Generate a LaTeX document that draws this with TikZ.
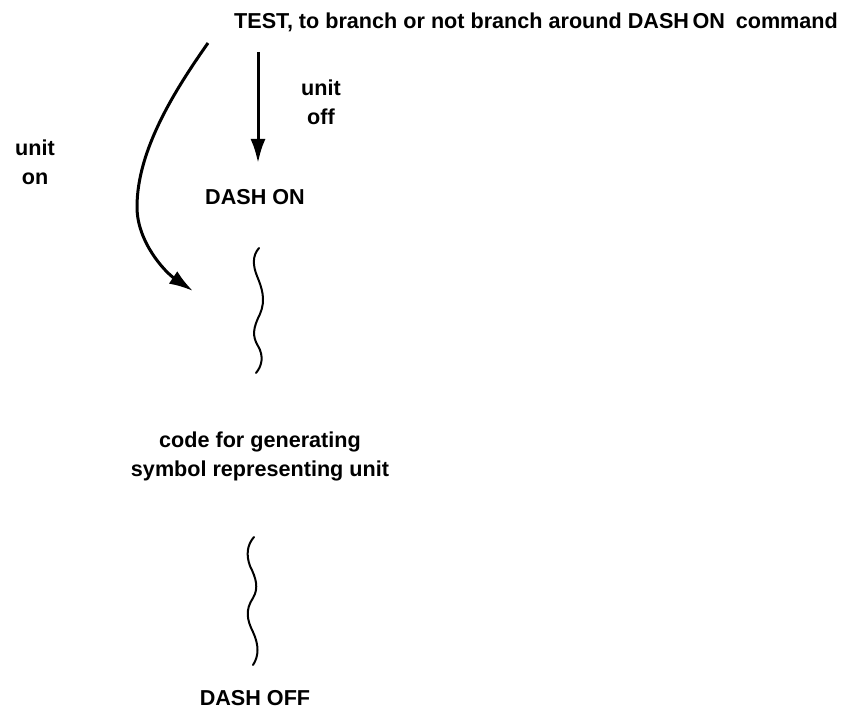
\documentclass[tikz,border=0pt]{standalone}
\usepackage{fontspec}
\setmainfont{Liberation Sans}
\usetikzlibrary{arrows.meta}

\begin{document}
\begin{tikzpicture}[x=0.5pt, y=-0.5pt, font=\fontsize{10.8}{14.5}\selectfont\bfseries]
    \tikzstyle{txt}      = [align=center, inner sep=0pt]
    \tikzstyle{arrow}    = [line width=1.5pt, -{Latex[length=12pt,width=7.5pt]}]
    \tikzstyle{squiggle} = [line width=1pt, line cap=round]

    \useasboundingbox (0,0) rectangle (851,715);

    \node [txt, anchor=base] (test) at (536,29) {TEST, to branch or not branch around DASH\,ON\hspace{0.5em}command};
    \node [txt] (unitoff) at (321,102) {unit\\off};
    \node [txt] (uniton) at (35,162) {unit\\on};
    \node [txt, anchor=base] (dashon) at (255,205) {DASH ON};
    \node [txt] (code) at (260,456) {code for generating\\symbol representing unit};
    \node [txt, anchor=base] (dashoff) at (255,705) {DASH OFF};

    \coordinate (offstart) at (258,52);
    \coordinate (offend) at (258,163);
    \coordinate (onstart) at (208,43);
    \coordinate (onend) at (193,291);

    % Connections
    \draw [arrow] (offstart) -- (offend);
    \draw [arrow] (onstart) .. controls (175,90) and (137,150) .. (137,207)
                            .. controls (137,242) and (165,272) .. (onend);

    % skipped code
    \draw [squiggle] (259,248) .. controls (252,256) and (253,266) .. (257,276)
                     .. controls (262,288) and (266,300) .. (260,314)
                     .. controls (253,328) and (252,336) .. (258,346)
                     .. controls (264,356) and (262,366) .. (256,373);
    \draw [squiggle] (254,537) .. controls (247,545) and (246,555) .. (250,566)
                     .. controls (256,578) and (259,588) .. (253,598)
                     .. controls (245,610) and (247,620) .. (253,632)
                     .. controls (259,645) and (259,656) .. (253,665);
\end{tikzpicture}
\end{document}
